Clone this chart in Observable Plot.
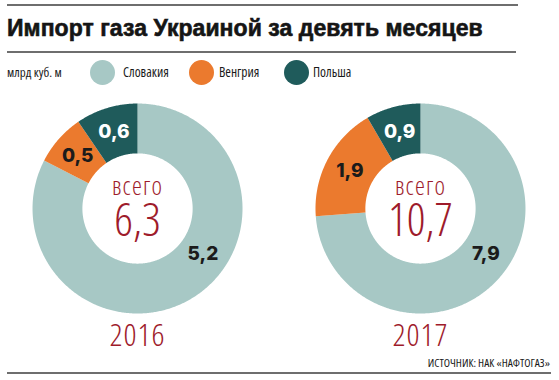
<!DOCTYPE html>
<html><head><meta charset="utf-8">
<script src="https://cdn.jsdelivr.net/npm/d3@7"></script>
<script src="https://cdn.jsdelivr.net/npm/@observablehq/plot@0.6"></script>
<style>
body{margin:0;background:#fff;}
#wrap{position:relative;width:559px;height:380px;overflow:hidden;font-family:"Open Sans",sans-serif;font-stretch:75%;color:#1a1a1a;}
.rule{position:absolute;left:7px;height:2px;background:#6e6e6e;}
#title{position:absolute;left:7px;top:13px;font-family:"Liberation Sans",sans-serif;font-stretch:100%;font-weight:900;font-size:23px;line-height:30px;white-space:nowrap;color:#151515;-webkit-text-stroke:0.6px #151515;letter-spacing:0.05px;}
#unit{position:absolute;left:7px;top:64px;font-size:13px;line-height:17px;white-space:nowrap;}
.lg{position:absolute;top:64px;font-size:13.5px;line-height:17px;white-space:nowrap;}
.dot{position:absolute;top:60px;width:25px;height:25px;border-radius:50%;}
#chart{position:absolute;left:0;top:90px;}
#chart text{font-stretch:75%;}
#chart text[aria-label="year-label"]{letter-spacing:1px;}
#chart text[aria-label="total-word"]{letter-spacing:1.2px;}
#src{position:absolute;right:9px;top:356px;font-size:11.5px;line-height:13px;white-space:nowrap;}
</style></head>
<body>
<div id="wrap">
  <div class="rule" style="top:4px;width:511px"></div>
  <div id="title"></div>
  <div class="rule" style="top:51px;width:509px"></div>
  <div id="unit"></div>
  <div id="legend"></div>
  <div id="chart"></div>
  <div id="src"></div>
  <div class="rule" style="top:372px;width:544px"></div>
</div>
<script>
// ---- data ----
const titleText = "Импорт газа Украиной за девять месяцев";
const unitText = "млрд куб. м";
const sourceText = "ИСТОЧНИК: НАК «НАФТОГАЗ»";
const years = ["2016", "2017"];
const countries = ["Словакия", "Венгрия", "Польша"];
const colors = ["#a7c8c5", "#eb7a2e", "#1f5b5b"];
const values2016 = [5.2, 0.5, 0.6];
const values2017 = [7.9, 1.9, 0.9];
const totalLabel = "всего";

// ---- HTML parts ----
document.getElementById("title").textContent = titleText;
document.getElementById("unit").textContent = unitText;
document.getElementById("src").textContent = sourceText;
const legendPos = [{dot: 90, txt: 123}, {dot: 189, txt: 219}, {dot: 284, txt: 313}];
const lg = document.getElementById("legend");
countries.forEach((c, i) => {
  const d = document.createElement("div");
  d.className = "dot"; d.style.left = legendPos[i].dot + "px"; d.style.background = colors[i];
  lg.appendChild(d);
  const t = document.createElement("div");
  t.className = "lg"; t.style.left = legendPos[i].txt + "px"; t.textContent = c;
  lg.appendChild(t);
});

// ---- geometry (unit = outer radius) ----
const inner = 0.525, spacing = 2.695, labelR = 0.76, bigLabelAngle = 125 * Math.PI / 180;
const fmt = v => d3.format(".1f")(v).replace(".", ",");
const series = [values2016, values2017];
const points = [], labels = [], centers = [];
series.forEach((vals, i) => {
  const cx = i * spacing;
  const rows = countries.map((c, k) => ({country: c, value: vals[k]}));
  const arcs = d3.pie().sort(null).value(d => d.value)(rows);
  const maxV = d3.max(vals);
  arcs.forEach(a => {
    const key = years[i] + a.data.country;
    const n = Math.max(2, Math.ceil((a.endAngle - a.startAngle) / 0.01));
    for (let j = 0; j <= n; j++) {
      const t = a.startAngle + (a.endAngle - a.startAngle) * j / n;
      points.push({key, country: a.data.country, x: cx + Math.sin(t), y: Math.cos(t)});
    }
    for (let j = n; j >= 0; j--) {
      const t = a.startAngle + (a.endAngle - a.startAngle) * j / n;
      points.push({key, country: a.data.country, x: cx + inner * Math.sin(t), y: inner * Math.cos(t)});
    }
    const ang = a.data.value === maxV ? bigLabelAngle : (a.startAngle + a.endAngle) / 2;
    labels.push({x: cx + labelR * Math.sin(ang), y: labelR * Math.cos(ang), text: fmt(a.data.value),
                 light: a.data.country === "Польша"});
  });
  centers.push({x: cx, y: 0, year: years[i], total: fmt(d3.sum(vals))});
});

const red = "#9e1b2b";
const W = 559, H = 270;
const chart = Plot.plot({
  width: W, height: H, margin: 0,
  x: {domain: [-1.305, 4.019], axis: null},
  y: {domain: [-1.4476, 1.124], axis: null},
  color: {domain: countries, range: colors},
  marks: [
    Plot.line(points, {x: "x", y: "y", z: "key", fill: "country", stroke: "none", curve: "linear-closed"}),
    Plot.text(labels, {filter: d => !d.light, x: "x", y: "y", text: "text", fill: "#1b1b1b",
      fontSize: 19, fontWeight: 800, fontFamily: "Inter, sans-serif"}),
    Plot.text(labels, {filter: d => d.light, x: "x", y: "y", text: "text", fill: "white",
      fontSize: 19, fontWeight: 800, fontFamily: "Inter, sans-serif"}),
    Plot.text(centers, {x: "x", y: "y", text: () => totalLabel, dy: -14, lineAnchor: "bottom",
      ariaLabel: () => "total-word",
      fill: red, fontSize: 25, fontWeight: 300, fontFamily: "Open Sans, sans-serif"}),
    Plot.text(centers, {x: "x", y: "y", text: "total", dy: 27.5, lineAnchor: "bottom",
      fill: red, fontSize: 46, fontWeight: 300, fontFamily: "Open Sans, sans-serif"}),
    Plot.text(centers, {x: "x", y: "y", text: "year", dy: 137.5, lineAnchor: "bottom",
      ariaLabel: () => "year-label",
      fill: red, fontSize: 32, fontWeight: 300, fontFamily: "Open Sans, sans-serif"})
  ]
});
document.getElementById("chart").appendChild(chart);
</script>
</body></html>
